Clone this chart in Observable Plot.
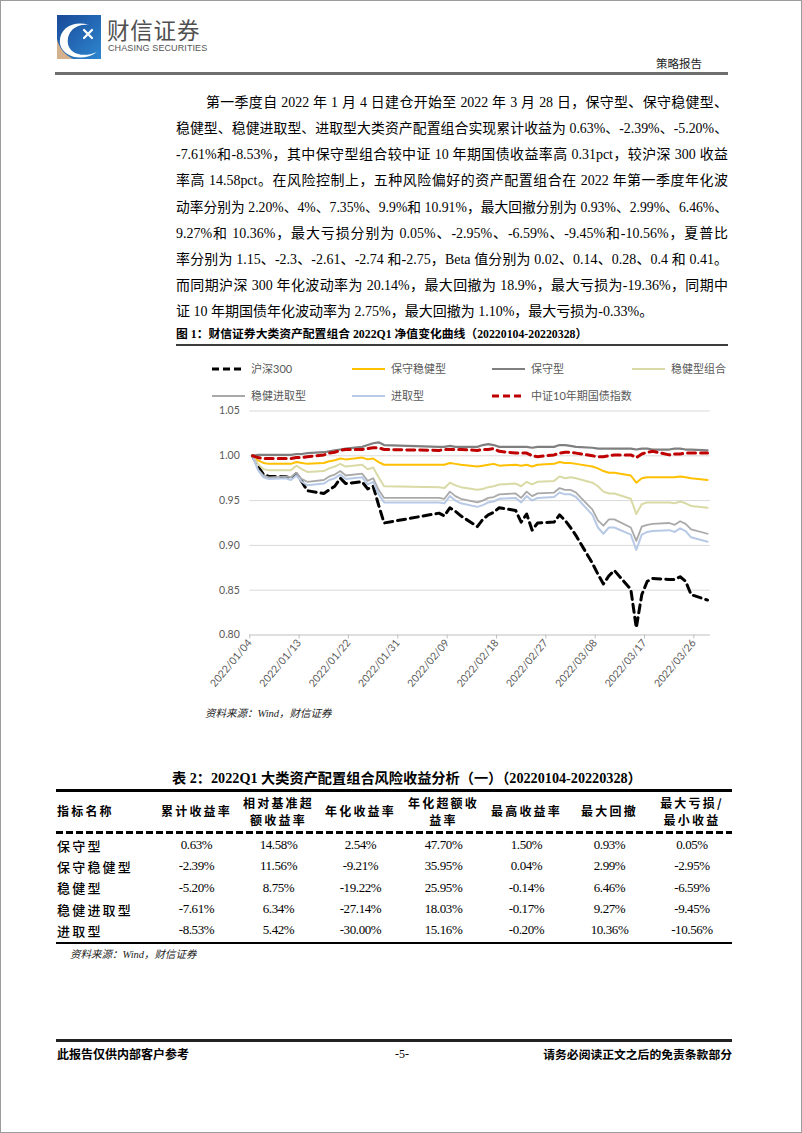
<!DOCTYPE html>
<html lang="zh">
<head>
<meta charset="utf-8">
<script src="https://cdn.jsdelivr.net/npm/d3@7"></script>
<script src="https://cdn.jsdelivr.net/npm/@observablehq/plot@0.6"></script>
<style>
html,body{margin:0;padding:0;background:#fff;}
#page{position:relative;width:802px;height:1133px;overflow:hidden;background:#fff;font-family:"Liberation Serif","Noto Sans CJK SC",serif;color:#000;}
.a{position:absolute;white-space:nowrap;}
.pl{position:absolute;left:176px;width:552px;height:26px;line-height:26px;font-size:14px;text-align:justify;text-align-last:justify;white-space:nowrap;box-sizing:border-box;}
.pl.first{padding-left:30px;}
.pl.last{text-align:left;text-align-last:left;}
.rule{position:absolute;}
.lg{position:absolute;height:16px;line-height:16px;font-size:11px;color:#595959;font-family:Lato,"Noto Sans CJK SC",sans-serif;white-space:nowrap;}
.cell{position:absolute;display:flex;align-items:center;justify-content:center;text-align:center;white-space:nowrap;}
.hd{font-weight:bold;font-size:12px;letter-spacing:2.2px;line-height:17.5px;font-family:"Noto Sans CJK SC",sans-serif;}
.nm{font-size:13px;letter-spacing:2.2px;font-family:"Noto Sans CJK SC",sans-serif;font-weight:500;justify-content:flex-start;}
.vl{font-size:13px;letter-spacing:-0.4px;font-family:"Liberation Serif",serif;}
.src{font-style:italic;font-size:10.5px;color:#222;}
#border{position:absolute;left:0;top:0;width:802px;height:1133px;box-sizing:border-box;border:1px solid #9c9c9c;pointer-events:none;}
</style>
</head>
<body>
<div id="page">
  <!-- header -->
  <svg class="a" style="left:57px;top:15px" width="44" height="44" viewBox="0 0 44 44">
    <defs><linearGradient id="lgb" x1="0" y1="0" x2="1" y2="1"><stop offset="0" stop-color="#1a4a98"/><stop offset="1" stop-color="#2e86d0"/></linearGradient></defs>
    <rect x="0" y="0" width="44" height="44" fill="url(#lgb)"/>
    <path d="M0,24 L0,44 L16,44 C8,40 2,33 0,24Z" fill="#d5b18d"/>
    <path d="M3,29 C1,14 16,5 32,10 C19,8 9,17 11,29 C13,39 26,43 40,37 C27,47 6,43 3,29Z" fill="#ffffff"/>
    <path d="M27,15 L35,23 M35,15 L27,23" stroke="#ffffff" stroke-width="2.2" stroke-linecap="round"/>
  </svg>
  <div class="a" style="left:107px;top:14px;font-size:22.5px;line-height:30px;letter-spacing:0.8px;color:#505050;font-family:'Noto Sans CJK SC',sans-serif;">财信证券</div>
  <div class="a" style="left:108px;top:43px;font-size:9px;line-height:11px;color:#555;font-family:'Liberation Sans Narrow','Liberation Sans',sans-serif;letter-spacing:0.1px;">CHASING SECURITIES</div>
  <div class="a" style="left:656px;top:55px;font-size:11.5px;line-height:16px;color:#222;font-family:'Noto Sans CJK SC',sans-serif;">策略报告</div>
  <div class="rule" style="left:55px;top:72px;width:673px;height:2.5px;background:#6e6e6e;"></div>

  <!-- paragraph -->
  <div class="pl first" style="top:90px"><span>第一季度自 2022 年 1 月 4 日建仓开始至 2022 年 3 月 28 日，保守型、保守稳健型、</span></div>
  <div class="pl" style="top:116px"><span>稳健型、稳健进取型、进取型大类资产配置组合实现累计收益为 0.63%、-2.39%、-5.20%、</span></div>
  <div class="pl" style="top:142px"><span>-7.61%和-8.53%，其中保守型组合较中证 10 年期国债收益率高 0.31pct，较沪深 300 收益</span></div>
  <div class="pl" style="top:168px"><span>率高 14.58pct。在风险控制上，五种风险偏好的资产配置组合在 2022 年第一季度年化波</span></div>
  <div class="pl" style="top:194.5px"><span>动率分别为 2.20%、4%、7.35%、9.9%和 10.91%，最大回撤分别为 0.93%、2.99%、6.46%、</span></div>
  <div class="pl" style="top:220.5px"><span>9.27%和 10.36%，最大亏损分别为 0.05%、-2.95%、-6.59%、-9.45%和-10.56%，夏普比</span></div>
  <div class="pl" style="top:246.5px"><span>率分别为 1.15、-2.3、-2.61、-2.74 和-2.75，Beta 值分别为 0.02、0.14、0.28、0.4 和 0.41。</span></div>
  <div class="pl" style="top:272.5px"><span>而同期沪深 300 年化波动率为 20.14%，最大回撤为 18.9%，最大亏损为-19.36%，同期中</span></div>
  <div class="pl last" style="top:298.5px"><span>证 10 年期国债年化波动率为 2.75%，最大回撤为 1.10%，最大亏损为-0.33%。</span></div>

  <!-- figure title -->
  <div class="a" style="left:176px;top:325px;font-size:11.8px;line-height:18px;font-weight:bold;">图 1：财信证券大类资产配置组合 2022Q1 净值变化曲线（20220104-20220328）</div>
  <div class="rule" style="left:176px;top:344px;width:552px;height:2px;background:#3c3c3c;"></div>

  <div id="legend"></div>
  <div id="chart" class="a" style="left:176px;top:400px;"></div>

  <div class="a src" style="left:205px;top:706px;line-height:16px;">资料来源：Wind，财信证券</div>

  <!-- table -->
  <div class="a" style="left:172px;top:769px;font-size:14.2px;line-height:18px;font-weight:bold;">表 2：2022Q1 大类资产配置组合风险收益分析（一）（20220104-20220328）</div>
  <div id="table"></div>
  <div class="a src" style="left:70px;top:947px;line-height:16px;">资料来源：Wind，财信证券</div>

  <!-- footer -->
  <div class="rule" style="left:56px;top:1039px;width:676px;height:2.5px;background:#222;"></div>
  <div class="a" style="left:57px;top:1045px;font-size:12px;line-height:18px;font-weight:bold;font-family:'Noto Sans CJK SC',sans-serif;">此报告仅供内部客户参考</div>
  <div class="a" style="left:395px;top:1045px;font-size:12px;line-height:18px;">-5-</div>
  <div class="a" style="left:536px;top:1045px;width:196px;text-align:right;font-size:11.8px;line-height:18px;font-weight:bold;font-family:'Noto Sans CJK SC',sans-serif;">请务必阅读正文之后的免责条款部分</div>

  <div id="border"></div>
</div>

<script>
// ---------- chart data ----------
const dates = [
  "2022-01-04","2022-01-05","2022-01-06","2022-01-07",
  "2022-01-10","2022-01-11","2022-01-12","2022-01-13","2022-01-14",
  "2022-01-17","2022-01-18","2022-01-19","2022-01-20","2022-01-21",
  "2022-01-24","2022-01-25","2022-01-26","2022-01-27","2022-01-28",
  "2022-02-07","2022-02-08","2022-02-09","2022-02-10","2022-02-11",
  "2022-02-14","2022-02-15","2022-02-16","2022-02-17","2022-02-18",
  "2022-02-21","2022-02-22","2022-02-23","2022-02-24","2022-02-25",
  "2022-02-28","2022-03-01","2022-03-02","2022-03-03","2022-03-04",
  "2022-03-07","2022-03-08","2022-03-09","2022-03-10","2022-03-11",
  "2022-03-14","2022-03-15","2022-03-16","2022-03-17","2022-03-18",
  "2022-03-21","2022-03-22","2022-03-23","2022-03-24","2022-03-25",
  "2022-03-28"
];
const hs300 = [
  1.000,0.988,0.979,0.977,
  0.977,0.975,0.980,0.971,0.961,
  0.958,0.962,0.966,0.975,0.969,
  0.971,0.963,0.966,0.945,0.925,
  0.936,0.933,0.942,0.938,0.933,
  0.921,0.929,0.934,0.937,0.942,
  0.939,0.926,0.935,0.917,0.925,
  0.926,0.934,0.928,0.920,0.911,
  0.880,0.868,0.857,0.866,0.872,
  0.851,0.808,0.845,0.860,0.863,
  0.862,0.862,0.865,0.860,0.845,
  0.839
];
const baoshouWenjian = [
  1.000,0.995,0.992,0.991,
  0.991,0.991,0.993,0.992,0.991,
  0.992,0.994,0.995,0.997,0.996,
  0.998,0.996,0.997,0.993,0.990,
  0.990,0.990,0.992,0.991,0.990,
  0.988,0.989,0.990,0.991,0.989,
  0.990,0.989,0.990,0.988,0.990,
  0.991,0.993,0.992,0.992,0.991,
  0.988,0.986,0.983,0.981,0.981,
  0.978,0.970,0.975,0.976,0.976,
  0.976,0.976,0.977,0.976,0.975,
  0.973
];
const baoshou = [
  1.000,1.001,1.001,1.001,
  1.001,1.001,1.002,1.002,1.003,
  1.004,1.005,1.006,1.007,1.008,
  1.010,1.012,1.014,1.015,1.012,
  1.010,1.010,1.011,1.010,1.010,
  1.010,1.012,1.013,1.012,1.010,
  1.010,1.010,1.010,1.009,1.010,
  1.010,1.012,1.012,1.011,1.010,
  1.009,1.008,1.008,1.008,1.008,
  1.008,1.007,1.008,1.008,1.007,
  1.007,1.008,1.008,1.007,1.007,
  1.006
];
const wenjian = [
  1.000,0.991,0.985,0.984,
  0.984,0.984,0.989,0.985,0.982,
  0.983,0.986,0.988,0.991,0.988,
  0.990,0.985,0.987,0.976,0.966,
  0.965,0.964,0.970,0.967,0.965,
  0.962,0.963,0.965,0.966,0.968,
  0.969,0.966,0.971,0.968,0.971,
  0.972,0.977,0.975,0.976,0.975,
  0.970,0.966,0.960,0.958,0.958,
  0.952,0.935,0.946,0.948,0.948,
  0.948,0.947,0.949,0.947,0.944,
  0.942
];
const wenjianJinqu = [
  1.000,0.985,0.978,0.976,
  0.977,0.976,0.981,0.974,0.971,
  0.973,0.977,0.979,0.983,0.978,
  0.980,0.972,0.975,0.962,0.953,
  0.953,0.952,0.960,0.955,0.952,
  0.948,0.950,0.953,0.954,0.957,
  0.958,0.953,0.960,0.955,0.958,
  0.959,0.964,0.962,0.962,0.959,
  0.940,0.928,0.922,0.929,0.929,
  0.920,0.905,0.921,0.923,0.924,
  0.925,0.923,0.927,0.924,0.918,
  0.913
];
const jinqu = [
  1.000,0.984,0.976,0.974,
  0.975,0.973,0.978,0.971,0.967,
  0.969,0.973,0.975,0.979,0.974,
  0.976,0.968,0.971,0.957,0.948,
  0.948,0.947,0.955,0.950,0.947,
  0.943,0.945,0.948,0.949,0.952,
  0.953,0.948,0.955,0.950,0.953,
  0.954,0.959,0.957,0.957,0.954,
  0.934,0.920,0.913,0.920,0.920,
  0.912,0.895,0.912,0.915,0.916,
  0.917,0.915,0.919,0.916,0.909,
  0.904
];
const guozhai10y = [
  1.000,0.998,0.997,0.997,
  0.997,0.997,0.998,0.998,0.999,
  1.001,1.003,1.004,1.006,1.007,
  1.007,1.008,1.009,1.009,1.007,
  1.006,1.007,1.007,1.007,1.007,
  1.006,1.007,1.007,1.008,1.005,
  1.003,1.003,1.003,1.000,0.999,
  1.001,1.003,1.004,1.004,1.003,
  1.000,0.999,0.999,1.000,1.001,
  1.001,0.998,1.002,1.004,1.005,
  1.001,1.002,1.002,1.003,1.003,
  1.003
];
const seriesNames = ["沪深300","保守稳健型","保守型","稳健型组合","稳健进取型","进取型","中证10年期国债指数"];
const seriesValues = [hs300, baoshouWenjian, baoshou, wenjian, wenjianJinqu, jinqu, guozhai10y];
const seriesColors = ["#000000","#FFC000","#7F7F7F","#DADAA6","#A9A9A9","#B7C9E5","#C00000"];
const seriesWidths = [3, 2, 2.2, 2, 1.8, 2, 3];
const seriesDashed = [true, false, false, false, false, false, true];
const xTickLabels = ["2022-01-04","2022-01-13","2022-01-22","2022-01-31","2022-02-09","2022-02-18","2022-02-27","2022-03-08","2022-03-17","2022-03-26"];
const yTicks = [0.80, 0.85, 0.90, 0.95, 1.00, 1.05];

// ---------- table data ----------
const tableHeaders = ["指标名称","累计收益率","相对基准超<br>额收益率","年化收益率","年化超额收<br>益率","最高收益率","最大回撤","最大亏损/<br>最小收益"];
const portfolioNames = ["保守型","保守稳健型","稳健型","稳健进取型","进取型"];
const cumReturn = ["0.63%","-2.39%","-5.20%","-7.61%","-8.53%"];
const relExcess = ["14.58%","11.56%","8.75%","6.34%","5.42%"];
const annReturn = ["2.54%","-9.21%","-19.22%","-27.14%","-30.00%"];
const annExcess = ["47.70%","35.95%","25.95%","18.03%","15.16%"];
const maxReturn = ["1.50%","0.04%","-0.14%","-0.17%","-0.20%"];
const maxDrawdown = ["0.93%","2.99%","6.46%","9.27%","10.36%"];
const maxLoss = ["0.05%","-2.95%","-6.59%","-9.45%","-10.56%"];

// ---------- paragraph fitting ----------
document.querySelectorAll('.pl').forEach(el => {
  const cs = getComputedStyle(el);
  const avail = el.clientWidth - parseFloat(cs.paddingLeft) - parseFloat(cs.paddingRight);
  const span = el.firstElementChild;
  const w = span.getBoundingClientRect().width;
  if (w > avail - 1.5) {
    el.style.fontSize = (14 * (avail - 1.5) / w) + 'px';
  }
  if (!el.classList.contains('last')) el.style.whiteSpace = 'normal';
});

// ---------- legend ----------
const legend = document.getElementById('legend');
const legendPos = [[212,369],[352,369],[492,369],[632,369],[212,396],[352,396],[492,396]];
seriesNames.forEach((name, i) => {
  const [x, y] = legendPos[i];
  const item = document.createElement('div');
  item.className = 'lg';
  item.style.left = x + 'px';
  item.style.top = (y - 8) + 'px';
  const dash = seriesDashed[i] ? 'stroke-dasharray="7,4"' : '';
  item.innerHTML = `<svg width="34" height="16" style="vertical-align:top"><line x1="0" y1="8" x2="33" y2="8" stroke="${seriesColors[i]}" stroke-width="${seriesWidths[i]}" ${dash}/></svg><span style="margin-left:5px">${name}</span>`;
  legend.appendChild(item);
});

// ---------- chart ----------
const rows = [];
seriesNames.forEach((name, i) => {
  dates.forEach((d, j) => rows.push({series: name, date: new Date(d + "T12:00:00Z"), value: seriesValues[i][j]}));
});
const lineMarks = seriesNames.map((name, i) => Plot.line(rows.filter(r => r.series === name), {
  x: "date", y: "value",
  stroke: seriesColors[i], strokeWidth: seriesWidths[i],
  strokeDasharray: seriesDashed[i] ? "8,5" : undefined,
  strokeLinejoin: "round"
}));
const chart = Plot.plot({
  width: 552, height: 300,
  marginLeft: 73.3, marginRight: 18.2, marginTop: 10.5, marginBottom: 65.5,
  style: {fontFamily: "Lato, 'Liberation Sans', sans-serif", fontSize: "10.5px", color: "#595959", background: "transparent", overflow: "visible"},
  x: {type: "utc", domain: [new Date("2022-01-04T00:00:00Z"), new Date("2022-03-29T00:00:00Z")]},
  y: {domain: [0.80, 1.05]},
  marks: [
    Plot.gridY(yTicks.slice(1), {stroke: "#d9d9d9", strokeOpacity: 1, strokeWidth: 1}),
    Plot.ruleY([0.80], {stroke: "#bfbfbf", strokeWidth: 1}),
    Plot.axisY(yTicks, {tickFormat: d => d.toFixed(2), tickSize: 0, tickPadding: 10, label: null, fill: "#595959"}),
    Plot.axisX(xTickLabels.map(d => new Date(d + "T00:00:00Z")), {tickFormat: d3.utcFormat("%Y/%m/%d"), tickRotate: -50, tickSize: 4, tickPadding: 2, label: null, stroke: "#bfbfbf", fill: "#595959"}),
    ...lineMarks
  ]
});
document.getElementById('chart').appendChild(chart);

// ---------- table ----------
const tbl = document.getElementById('table');
const colEdges = [56,156,237,320,401,486,567,652,732];
function addDiv(cls, style, html) {
  const d = document.createElement('div');
  d.className = cls; Object.assign(d.style, style); d.innerHTML = html; tbl.appendChild(d); return d;
}
addDiv('rule', {left:'56px', top:'789px', width:'676px', height:'2.5px', background:'#000'}, '');
tableHeaders.forEach((h, c) => {
  const st = {left: colEdges[c] + 'px', top: '791px', width: (colEdges[c+1]-colEdges[c]) + 'px', height: '40px'};
  if (c === 0) { st.justifyContent = 'flex-start'; st.left = '57px'; }
  addDiv('cell hd', st, h);
});
addDiv('rule', {left:'56px', top:'831px', width:'676px', height:'2.5px', background:'repeating-linear-gradient(90deg,#000 0 7px,transparent 7px 10px)'}, '');
const tableCols = [cumReturn, relExcess, annReturn, annExcess, maxReturn, maxDrawdown, maxLoss];
portfolioNames.forEach((n, r) => {
  const top = 834.5 + r * 21.3;
  addDiv('cell nm', {left:'57px', top: top + 'px', width:'98px', height:'21.3px'}, n);
  tableCols.forEach((col, c) => {
    addDiv('cell vl', {left: colEdges[c+1] + 'px', top: top + 'px', width: (colEdges[c+2]-colEdges[c+1]) + 'px', height:'21.3px'}, col[r]);
  });
});
addDiv('rule', {left:'56px', top:'941.5px', width:'676px', height:'2px', background:'#000'}, '');
</script>
</body>
</html>
